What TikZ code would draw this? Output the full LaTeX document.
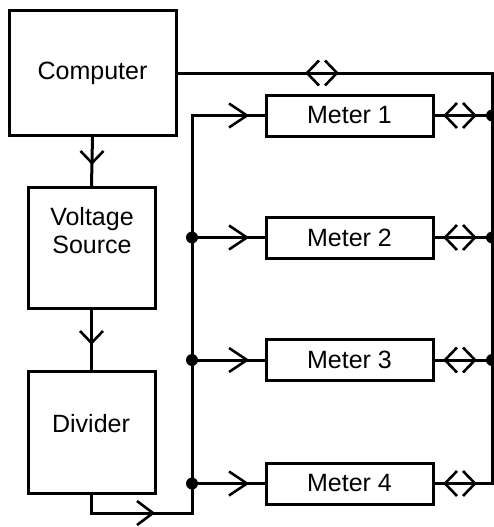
\documentclass[tikz,border=0pt]{standalone}
\usepackage{fontspec}
\setmainfont{Liberation Sans}
\begin{document}
\begin{tikzpicture}[x=1pt,y=-1pt,
  line width=3pt,
  every node/.style={font=\fontsize{25}{30}\selectfont, inner sep=0pt},
  blk/.style={draw, rectangle, line width=3pt},
  meterbox/.style={blk, minimum width=167pt, minimum height=41pt},
  lbl/.style={anchor=base},
  chev/.style={line width=2.6pt, line join=miter},
  dot/.style={fill=black, circle, minimum size=12pt, draw=none}
]
\useasboundingbox (0,0) rectangle (494,527);

% blocks
\node[blk, minimum width=167pt, minimum height=124pt] (comp) at (92.5,73) {Computer};
\node[blk, minimum width=127pt, minimum height=121pt] (volt) at (91.5,248) {};
\node[lbl] (voltA) at (92,225) {Voltage};
\node[lbl] (voltB) at (92,253) {Source};
\node[blk, minimum width=127pt, minimum height=122pt] (div) at (91.5,432) {};
\node[lbl] (divT) at (91,432) {Divider};

\node[meterbox] (m1) at (349.5,115.5) {Meter 1};
\node[meterbox] (m2) at (349.5,237.5) {Meter 2};
\node[meterbox] (m3) at (349.5,360) {Meter 3};
\node[meterbox] (m4) at (349.5,483.5) {Meter 4};

% bus coordinates
\coordinate (rtop) at (492,73);
\coordinate (r1) at (492,115.5);
\coordinate (r2) at (492,237.5);
\coordinate (r3) at (492,360);
\coordinate (r4) at (492,483.5);
\coordinate (l1) at (192,115.5);
\coordinate (l2) at (192,237.5);
\coordinate (l3) at (192,360);
\coordinate (l4) at (192,483.5);
\coordinate (lb) at (192,513);
\coordinate (db) at (91.5,513);

% connectors
\draw (comp.south) -- (volt.north);
\draw (volt.south) -- (div.north);
\draw (div.south) -- (db) -- (lb) -- (l1) -- (m1.west);
\draw (l2) -- (m2.west);
\draw (l3) -- (m3.west);
\draw (l4) -- (m4.west);
\draw (comp.east) -- (rtop) -- (r4) -- (m4.east);
\draw (m1.east) -- (r1);
\draw (m2.east) -- (r2);
\draw (m3.east) -- (r3);

% dots
\node[dot] (dl2) at (l2) {};
\node[dot] (dl3) at (l3) {};
\node[dot] (dl4) at (l4) {};
\node[dot] (dr1) at (r1) {};
\node[dot] (dr2) at (r2) {};
\node[dot] (dr3) at (r3) {};

% down chevrons
\draw[chev] (80.5,151) -- (92,163) -- (103.5,151);
\draw[chev] (80,331) -- (91.5,343) -- (103,331);
% right chevrons
\draw[chev] (137,501) -- (153,513) -- (137,525);
\foreach \y in {115.5,237.5,360,483.5}{
  \draw[chev] (229,\y-12) -- (247,\y) -- (229,\y+12);
}
% double chevrons
\foreach \cx/\cy in {322/73, 460/115.5, 460/237.5, 460/360, 460/483.5}{
  \draw[chev] (\cx-3,\cy-12.5) -- (\cx-15,\cy) -- (\cx-3,\cy+12.5);
  \draw[chev] (\cx+3,\cy-12.5) -- (\cx+15,\cy) -- (\cx+3,\cy+12.5);
}
\end{tikzpicture}
\end{document}
